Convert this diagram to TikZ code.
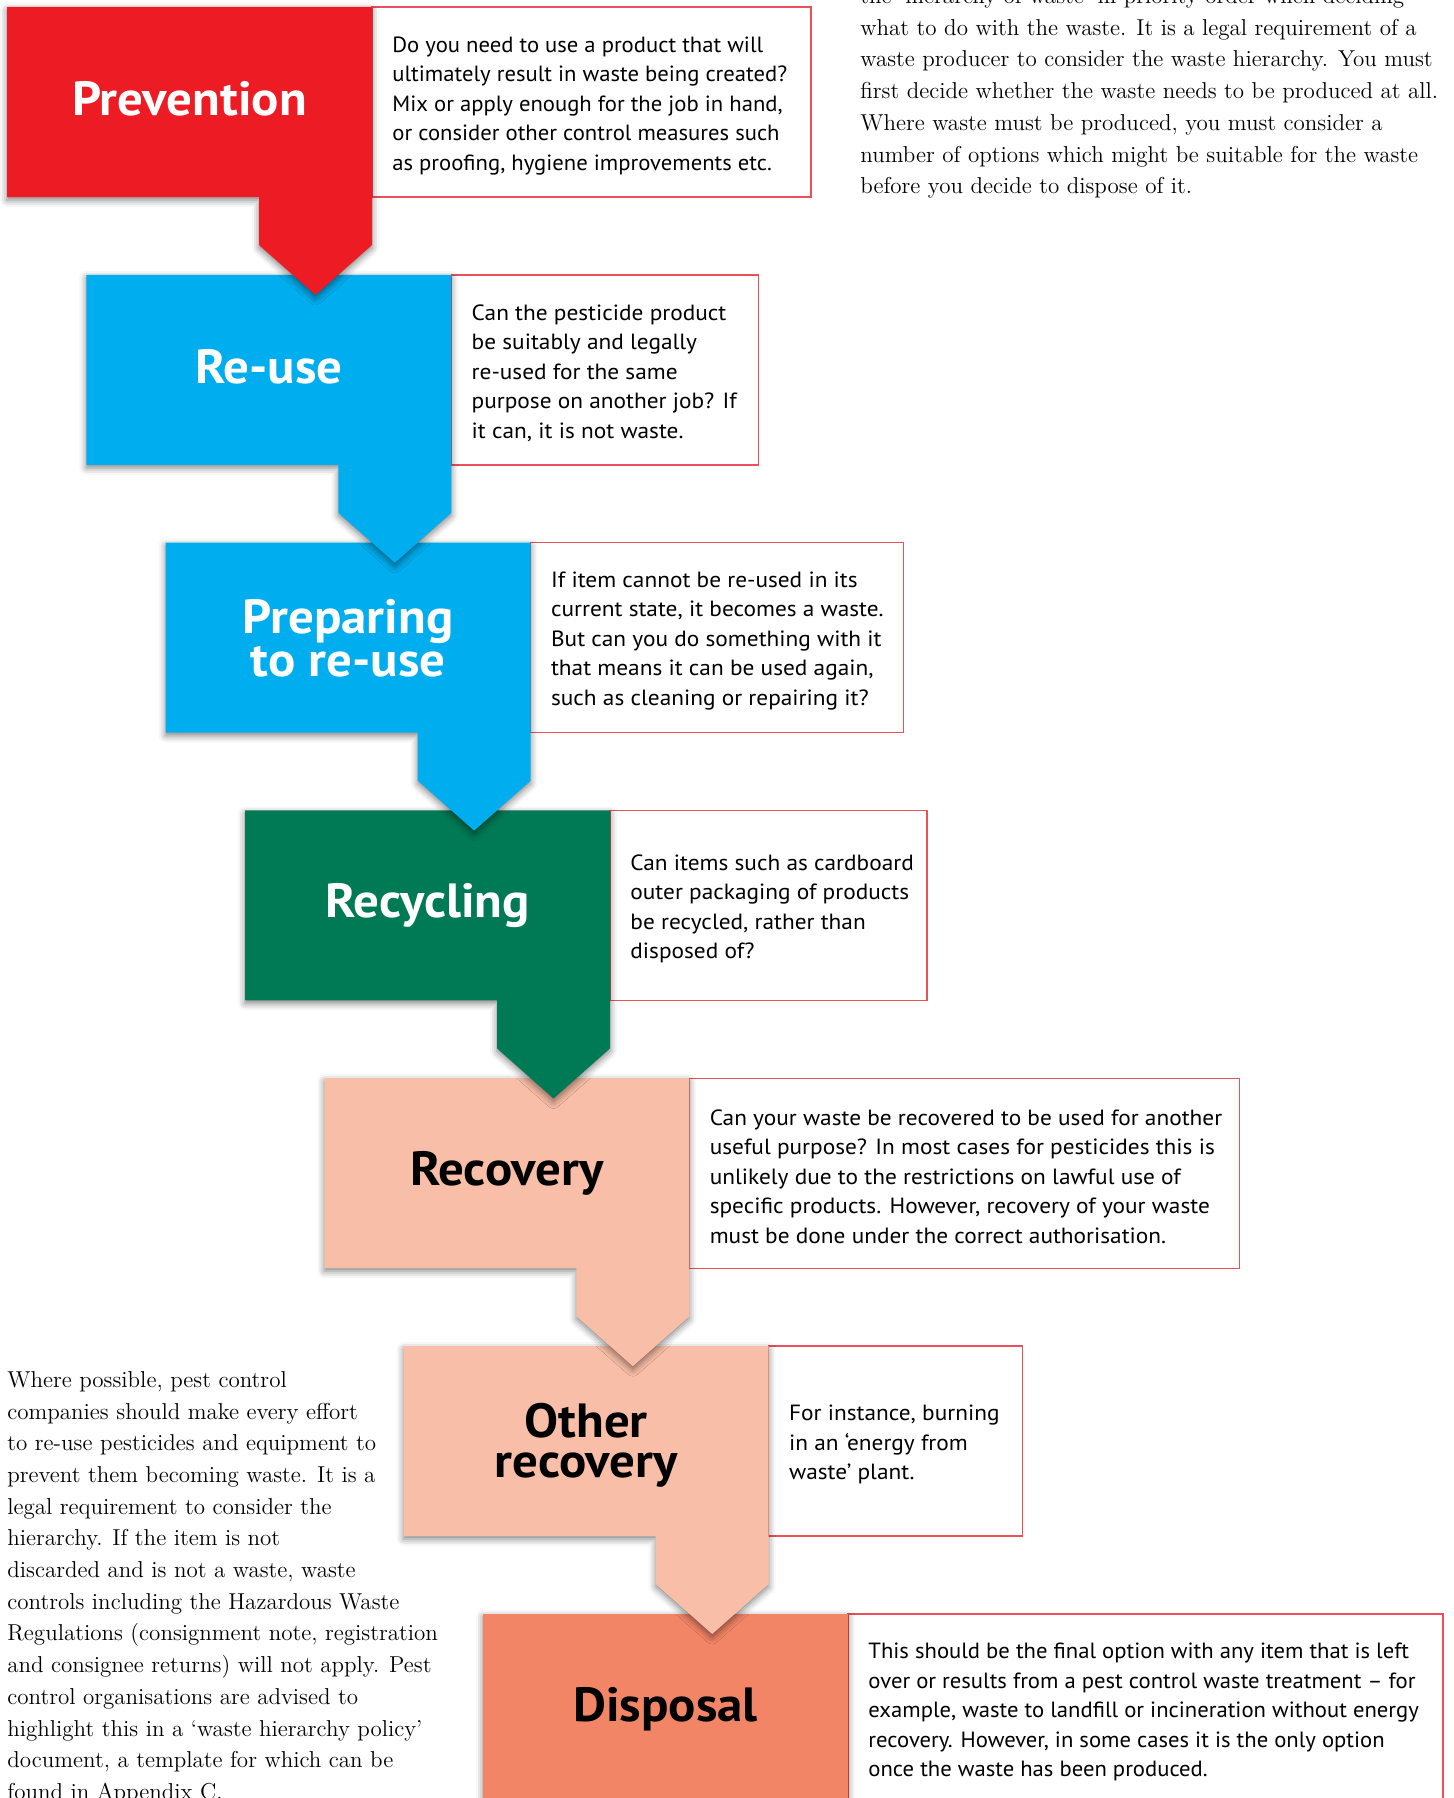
\documentclass[tikz,border=0pt]{standalone}
\usepackage{fontspec}
\setsansfont{PT Sans}[FakeStretch=1.06]
\newfontfamily\condsans{PT Sans}[FakeStretch=1.03]
\usetikzlibrary{positioning}
\usetikzlibrary{shadows.blur}

\definecolor{prevred}{RGB}{237,28,36}
\definecolor{reuseblue}{RGB}{0,174,239}
\definecolor{recgreen}{RGB}{0,122,84}
\definecolor{recpink}{RGB}{249,190,167}
\definecolor{disporange}{RGB}{243,133,103}
\definecolor{boxred}{RGB}{236,80,88}

\tikzset{
  stepbox/.style={minimum width=182.5pt, minimum height=95pt, inner sep=0pt, align=center,
    font=\sffamily\bfseries\fontsize{24}{20}\selectfont},
  infotext/.style={align=left, inner sep=0pt, anchor=west, font=\sffamily\fontsize{11}{14.75}\selectfont},
  infoline/.style={draw=boxred, line width=0.7pt},
  castshadow/.style={blur shadow={shadow xshift=0pt, shadow yshift=-1.5pt,
    shadow blur radius=3.5pt, shadow opacity=50}},
  body/.style={align=left, inner sep=0pt, font=\fontsize{11.5}{15.85}\selectfont},
}

\begin{document}
\begin{tikzpicture}[x=0.5pt,y=-0.5pt]
\useasboundingbox (0,0) rectangle (1454,1798);

% top left corner of every step
\coordinate (prevc) at (7,7);
\coordinate (reusec) at ([xshift=39.67pt,yshift=-133.9pt]prevc);
\coordinate (prepc) at ([xshift=39.67pt,yshift=-133.9pt]reusec);
\coordinate (recycc) at ([xshift=39.67pt,yshift=-133.9pt]prepc);
\coordinate (recovc) at ([xshift=39.67pt,yshift=-133.9pt]recycc);
\coordinate (otherc) at ([xshift=39.67pt,yshift=-133.9pt]recovc);
\coordinate (dispc) at ([xshift=39.67pt,yshift=-133.9pt]otherc);

% red framed notes
\draw[infoline] ([xshift=182.5pt]prevc) rectangle ++(219.5pt,-95pt);
\node[infotext,font=\condsans\fontsize{11}{14.75}\selectfont] at ([xshift=192.5pt,yshift=-49.5pt]prevc) (prevtxt) {Do you need to use a product that will\\ultimately result in waste being created?\\Mix or apply enough for the job in hand,\\or consider other control measures such\\as proofing, hygiene improvements etc.};
\draw[infoline] ([xshift=182.5pt]reusec) rectangle ++(153.5pt,-95pt);
\node[infotext] at ([xshift=192.5pt,yshift=-49.2pt]reusec) (reusetxt) {Can the pesticide product\\be suitably and legally\\re-used for the same\\purpose on another job? If\\it can, it is not waste.};
\draw[infoline] ([xshift=182.5pt]prepc) rectangle ++(186.5pt,-95pt);
\node[infotext] at ([xshift=192.5pt,yshift=-49.2pt]prepc) (preptxt) {If item cannot be re-used in its\\current state, it becomes a waste.\\But can you do something with it\\that means it can be used again,\\such as cleaning or repairing it?};
\draw[infoline] ([xshift=182.5pt]recycc) rectangle ++(158.5pt,-95pt);
\node[infotext] at ([xshift=192.5pt,yshift=-49.2pt]recycc) (recyctxt) {Can items such as cardboard\\outer packaging of products\\be recycled, rather than\\disposed of?};
\draw[infoline] ([xshift=182.5pt]recovc) rectangle ++(275pt,-95pt);
\node[infotext] at ([xshift=192.5pt,yshift=-49.2pt]recovc) (recovtxt) {Can your waste be recovered to be used for another\\useful purpose? In most cases for pesticides this is\\unlikely due to the restrictions on lawful use of\\specific products. However, recovery of your waste\\must be done under the correct authorisation.};
\draw[infoline] ([xshift=182.5pt]otherc) rectangle ++(127pt,-95pt);
\node[infotext] at ([xshift=192.5pt,yshift=-49.2pt]otherc) (othertxt) {For instance, burning\\in an ‘energy from\\waste’ plant.};
\draw[infoline] ([xshift=182.5pt]dispc) rectangle ++(297.5pt,-95pt);
\node[infotext,font=\condsans\fontsize{11}{14.75}\selectfont] at ([xshift=192.5pt,yshift=-49.2pt]dispc) (disptxt) {This should be the final option with any item that is left\\over or results from a pest control waste treatment – for\\example, waste to landfill or incineration without energy\\recovery. However, in some cases it is the only option\\once the waste has been produced.};

% coloured steps, bottom first so each point lies on the next step
\fill[disporange,castshadow] (dispc) rectangle ++(182.5pt,-95pt);
\node[stepbox] at ([xshift=91.25pt,yshift=-47.8pt]dispc) (disp) {Disposal};
\fill[recpink,castshadow] (otherc) -- ++(182.5pt,0) -- ++(0,-119pt) -- ++(-28.25pt,-25pt) -- ++(-28.25pt,25pt) -- ++(0,24pt) -- ++(-126pt,0) -- cycle;
\node[stepbox] at ([xshift=91.25pt,yshift=-49.5pt]otherc) (other) {Other\\recovery};
\fill[recpink,castshadow] (recovc) -- ++(182.5pt,0) -- ++(0,-119pt) -- ++(-28.25pt,-25pt) -- ++(-28.25pt,25pt) -- ++(0,24pt) -- ++(-126pt,0) -- cycle;
\node[stepbox] at ([xshift=91.25pt,yshift=-47.8pt]recovc) (recov) {Recovery};
\fill[recgreen,castshadow] (recycc) -- ++(182.5pt,0) -- ++(0,-119pt) -- ++(-28.25pt,-25pt) -- ++(-28.25pt,25pt) -- ++(0,24pt) -- ++(-126pt,0) -- cycle;
\node[stepbox,text=white] at ([xshift=91.25pt,yshift=-47.8pt]recycc) (recyc) {Recycling};
\fill[reuseblue,castshadow] (prepc) -- ++(182.5pt,0) -- ++(0,-119pt) -- ++(-28.25pt,-25pt) -- ++(-28.25pt,25pt) -- ++(0,24pt) -- ++(-126pt,0) -- cycle;
\node[stepbox,text=white] at ([xshift=91.25pt,yshift=-47.8pt]prepc) (prep) {Preparing\\to re-use};
\fill[reuseblue,castshadow] (reusec) -- ++(182.5pt,0) -- ++(0,-119pt) -- ++(-28.25pt,-25pt) -- ++(-28.25pt,25pt) -- ++(0,24pt) -- ++(-126pt,0) -- cycle;
\node[stepbox,text=white] at ([xshift=91.25pt,yshift=-45.8pt]reusec) (reuse) {Re-use};
\fill[prevred,castshadow] (prevc) -- ++(182.5pt,0) -- ++(0,-119pt) -- ++(-28.25pt,-25pt) -- ++(-28.25pt,25pt) -- ++(0,24pt) -- ++(-126pt,0) -- cycle;
\node[stepbox,text=white] at ([xshift=91.25pt,yshift=-45.8pt]prevc) (prev) {Prevention};

% running text either side
\node[body,anchor=north west] at (860,-13) (hiertxt) {the ‘hierarchy of waste’ in priority order when deciding\\what to do with the waste. It is a legal requirement of a\\waste producer to consider the waste hierarchy. You must\\first decide whether the waste needs to be produced at all.\\Where waste must be produced, you must consider a\\number of options which might be suitable for the waste\\before you decide to dispose of it.};
\node[body,anchor=north west] at (7,1371) (policytxt) {Where possible, pest control\\companies should make every effort\\to re-use pesticides and equipment to\\prevent them becoming waste. It is a\\legal requirement to consider the\\hierarchy. If the item is not\\discarded and is not a waste, waste\\controls including the Hazardous Waste\\Regulations (consignment note, registration\\and consignee returns) will not apply. Pest\\control organisations are advised to\\highlight this in a ‘waste hierarchy policy’\\document, a template for which can be\\found in Appendix C.};
\end{tikzpicture}
\end{document}
